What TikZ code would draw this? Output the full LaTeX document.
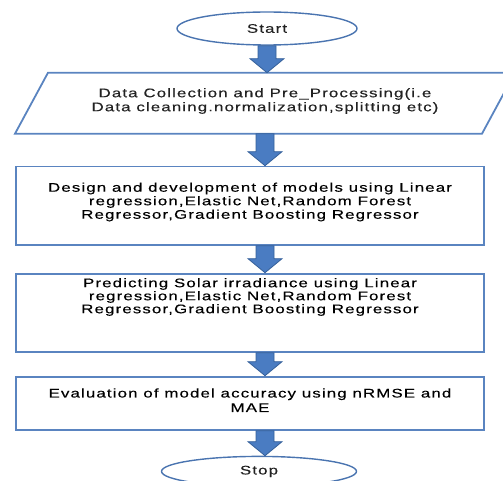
\documentclass[tikz,border=0pt]{standalone}
\usepackage{fontspec}
\setmainfont{Liberation Sans}[FakeStretch=1.35,LetterSpace=9,FakeBold=0.3]
\usetikzlibrary{calc,positioning,shapes.geometric}
\definecolor{edge}{HTML}{5A84C0}
\definecolor{ring}{HTML}{4A74B0}
\definecolor{pipefill}{HTML}{4A7CC2}
\definecolor{pipeline}{HTML}{35609A}
\definecolor{ink}{HTML}{222222}
\newcommand{\droop}[1]{\rule[-#1]{0pt}{#1}}
\newcommand{\pipe}[2]{\filldraw[pipe] ($(#1)+(-9pt,0)$) -- ($(#2)+(-9pt,14pt)$) -- ($(#2)+(-17pt,14pt)$) -- (#2) -- ($(#2)+(17pt,14pt)$) -- ($(#2)+(9pt,14pt)$) -- ($(#1)+(9pt,0)$) -- cycle;}
\tikzset{terminal/.style={ellipse,draw=ring,line width=1.4pt,minimum width=180pt,minimum height=33pt,inner sep=0pt},
  stepbox/.style={draw=edge,line width=1.8pt,minimum width=468pt,align=center,inner sep=0pt},
  iotext/.style={minimum width=467pt,minimum height=61pt,align=center,inner sep=0pt,outer sep=0pt},
  iobox/.style={draw=edge,line width=1.8pt,line join=miter},
  pipe/.style={fill=pipefill,draw=pipeline,line width=.8pt}}

\begin{document}
\begin{tikzpicture}[font=\fontsize{12.5}{14}\selectfont\color{ink}]
\useasboundingbox (0,0) rectangle (503pt,-481pt);
\clip (0,0) rectangle (503pt,-481pt);
\node[terminal] (start) at (267pt,-28.5pt) {Start};
\node[iotext,below=27pt of start,xshift=-2pt] (data) {Data Collection and Pre\_Processing(i.e\\Data cleaning.normalization,splitting etc)\droop{7pt}};
\draw[iobox] ($(data.south west)+(-16.5pt,0)$) -- ($(data.south east)+(-16.5pt,0)$) -- ($(data.north east)+(16.5pt,0)$) -- ($(data.north west)+(16.5pt,0)$) -- cycle;
\node[stepbox,minimum height=78.2pt,below=32pt of data,xshift=-15pt,font=\fontsize{12.5}{13.5}\selectfont] (design) {Design and development of models using Linear\\regression,Elastic Net,Random Forest\\Regressor,Gradient Boosting Regressor\droop{10pt}};
\node[stepbox,minimum height=78.2pt,below=27pt of design,font=\fontsize{12.5}{13}\selectfont] (predict) {Predicting Solar irradiance using Linear\\regression,Elastic Net,Random Forest\\Regressor,Gradient Boosting Regressor\droop{34pt}};
\node[stepbox,minimum height=53.2pt,below=23pt of predict,font=\fontsize{12.5}{14.5}\selectfont] (eval) {Evaluation of model accuracy using nRMSE and\\MAE\droop{6pt}};
\node[terminal,minimum width=195pt,minimum height=30pt,below=25pt of eval,xshift=9pt] (stop) {Stop};
% block arrows
\coordinate (spine) at ($(start.south)+(-2pt,0)$);
\pipe{start.south}{start.south |- data.north}
\pipe{spine |- data.south}{spine |- design.north}
\pipe{spine |- design.south}{spine |- predict.north}
\pipe{spine |- predict.south}{spine |- eval.north}
\pipe{spine |- eval.south}{spine |- stop.north}
\end{tikzpicture}
\end{document}
